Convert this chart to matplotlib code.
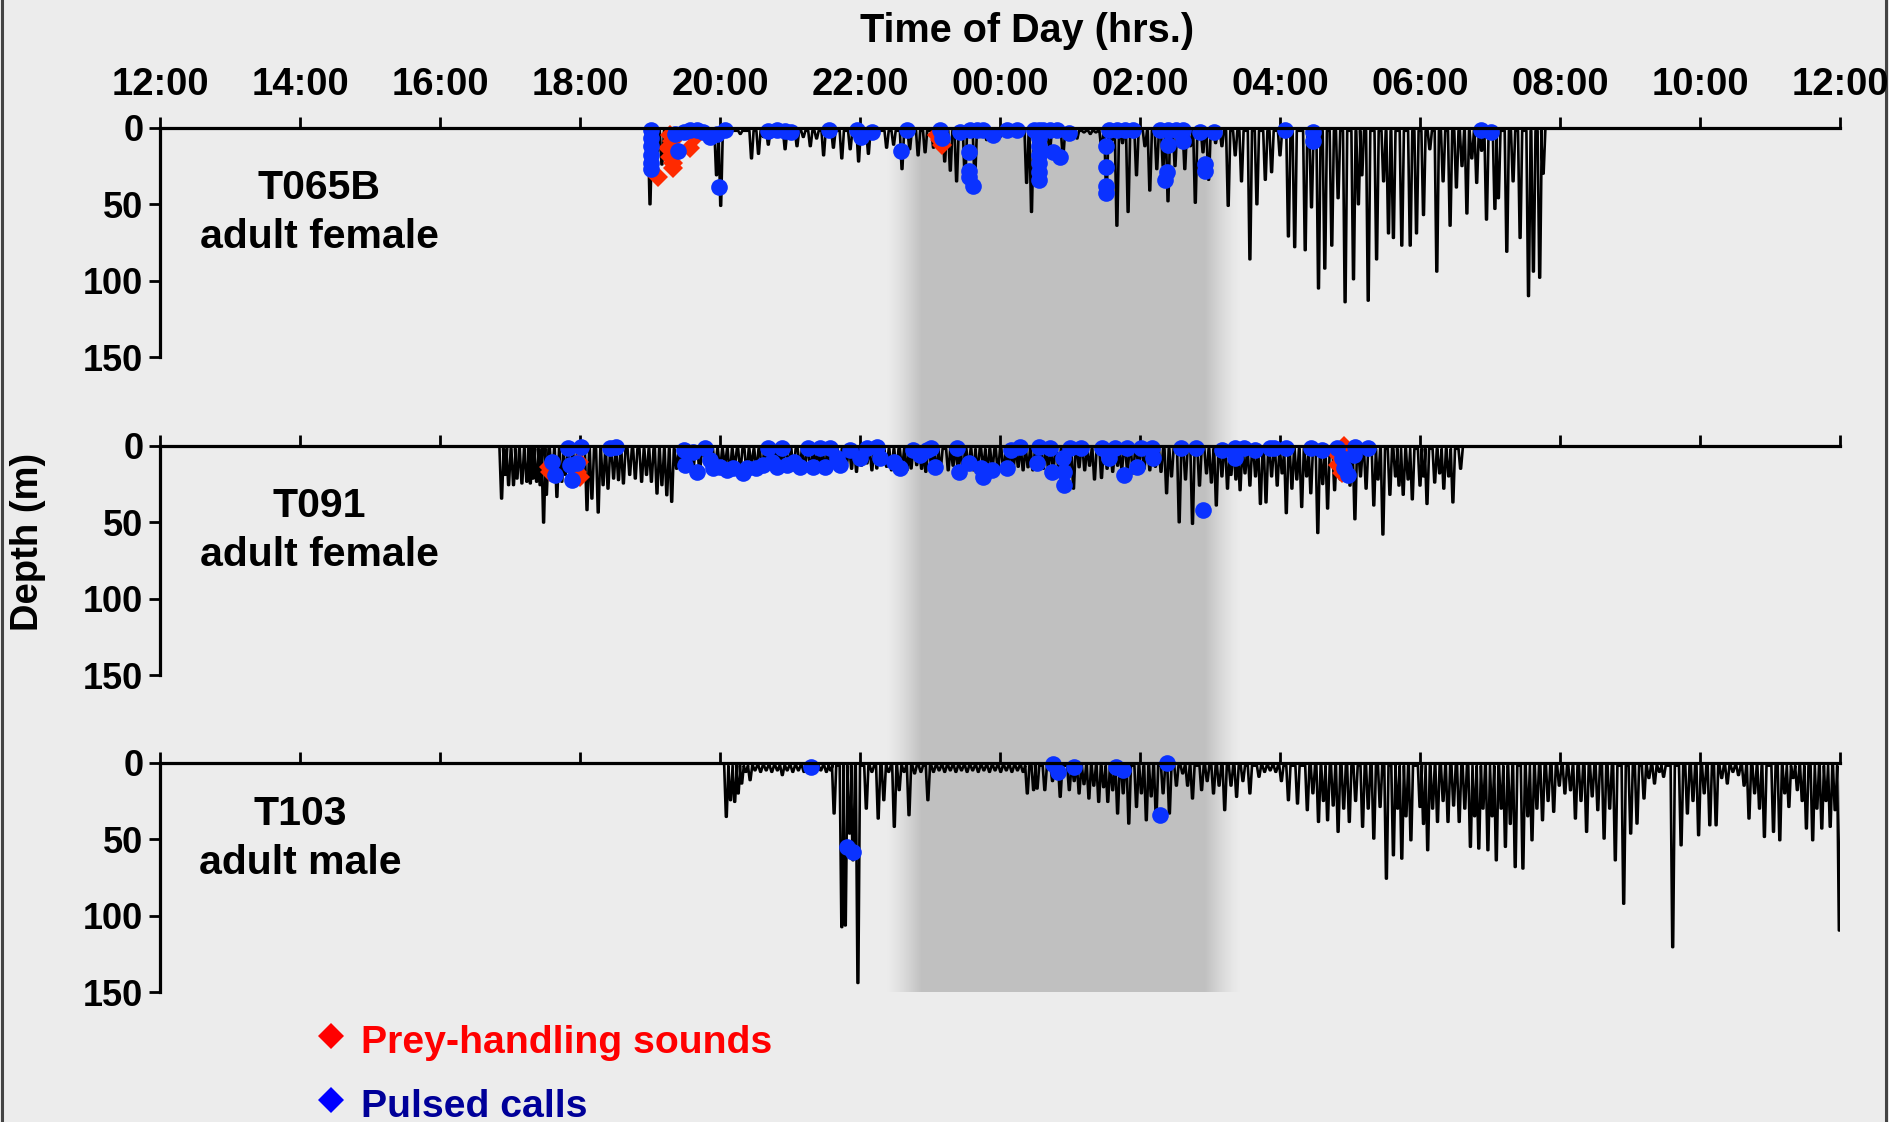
import numpy as np
import matplotlib
matplotlib.use("Agg")
import matplotlib.pyplot as plt
from matplotlib.lines import Line2D

# ---------------- data (clock hours; values >24 are the next day) ----------------
hour_ticks = [12, 14, 16, 18, 20, 22, 24, 26, 28, 30, 32, 34, 36]
hour_labels = ["12:00", "14:00", "16:00", "18:00", "20:00", "22:00", "00:00",
               "02:00", "04:00", "06:00", "08:00", "10:00", "12:00"]
depth_ticks = [0, 50, 100, 150]
whale_ids = ["T065B", "T091", "T103"]
whale_desc = ["adult female", "adult female", "adult male"]
legend_labels = ["Prey-handling sounds", "Pulsed calls"]
night_start, night_end, night_fade = 22.88, 26.93, 0.5

# T065B dives: time of each dive, maximum depth (m)
t065_dive_t = [19.00, 19.10, 19.17, 19.24, 19.43, 19.62, 19.81, 19.95, 20.01, 20.14, 20.29, 20.45, 20.55,
               20.62, 20.69, 20.81, 20.93, 21.02, 21.10, 21.19, 21.29, 21.38, 21.48, 21.55, 21.62, 21.74,
               21.86, 21.98, 22.05, 22.12, 22.24, 22.38, 22.48, 22.60, 22.71, 22.83, 22.93, 23.05, 23.21,
               23.29, 23.38, 23.50, 23.64, 23.72, 23.81, 23.90, 24.00, 24.10, 24.19, 24.28, 24.38, 24.45,
               24.55, 24.62, 24.71, 24.80, 24.90, 25.00, 25.10, 25.20, 25.29, 25.37, 25.45, 25.52, 25.60,
               25.67, 25.75, 25.83, 25.95, 26.07, 26.14, 26.24, 26.33, 26.40, 26.50, 26.57, 26.64, 26.72,
               26.79, 26.90, 26.98, 27.08, 27.17, 27.26, 27.36, 27.45, 27.57, 27.67, 27.79, 27.88, 28.00,
               28.12, 28.21, 28.36, 28.45, 28.55, 28.64, 28.74, 28.83, 28.93, 29.05, 29.12, 29.17, 29.26,
               29.38, 29.48, 29.55, 29.62, 29.74, 29.86, 29.95, 30.05, 30.14, 30.24, 30.33, 30.43, 30.52,
               30.60, 30.67, 30.74, 30.81, 30.88, 30.95, 31.07, 31.12, 31.24, 31.33, 31.43, 31.55, 31.62,
               31.71, 31.76]
t065_dive_d = [50, 20, 24, 15, 8, 6, 5, 31, 51, 4, 4, 20, 17,
               6, 11, 5, 14, 5, 12, 6, 12, 7, 18, 5, 13, 20,
               14, 22, 6, 17, 6, 13, 11, 27, 14, 18, 16, 13, 22,
               28, 35, 34, 33, 6, 8, 4, 6, 4, 5, 4, 36, 55,
               8, 10, 16, 6, 19, 5, 7, 3, 4, 3, 13, 42, 8,
               64, 10, 55, 31, 12, 41, 27, 25, 48, 25, 10, 27, 12,
               49, 16, 34, 10, 12, 51, 18, 35, 86, 50, 34, 29, 18,
               71, 78, 80, 52, 105, 92, 77, 46, 114, 99, 50, 31, 113,
               86, 35, 69, 72, 77, 77, 69, 57, 14, 94, 35, 64, 39,
               25, 56, 20, 36, 15, 60, 53, 46, 81, 35, 72, 110, 94,
               98, 30]
t065_call_t = [19.02, 19.02, 19.02, 19.02, 19.02, 19.02, 19.40, 19.36, 19.48, 19.57, 19.67, 19.76, 19.86,
               19.95, 20.07, 19.99, 20.69, 20.81, 20.93, 21.02, 21.55, 21.95, 22.02, 22.17, 22.59, 22.67,
               23.14, 23.17, 23.43, 23.57, 23.67, 23.76, 23.90, 23.55, 23.55, 23.55, 23.62, 24.10, 24.24,
               24.55, 24.55, 24.55, 24.55, 24.55, 24.55, 24.55, 24.48, 24.62, 24.71, 24.81, 24.98, 24.76,
               24.86, 25.55, 25.67, 25.79, 25.90, 25.52, 25.52, 25.52, 25.52, 26.29, 26.40, 26.52, 26.62,
               26.40, 26.62, 26.38, 26.36, 26.86, 27.05, 26.93, 26.93, 28.07, 28.47, 28.47, 30.87, 31.02]
t065_call_d = [1.5, 7, 12, 18, 23, 27, 15, 4, 3, 1.5, 1.5, 3, 6,
               4, 1.5, 39, 2, 1.5, 2, 3, 1.5, 1.5, 6, 2.5, 15, 1.5,
               1.5, 7, 2.5, 1.5, 1.5, 1.5, 5, 16, 28, 32, 38, 1.5, 1.5,
               1.5, 7, 12, 18, 23, 29, 34, 1.5, 1.5, 1.5, 1.5, 3.5, 16,
               19, 1.5, 1.5, 1.5, 1.5, 12, 26, 38, 43, 1.5, 1.5, 1.5, 1.5,
               11, 9, 29, 34, 2.5, 2.5, 24, 28, 1.5, 2.5, 9, 1.5, 2.5]
t065_prey_t = [19.12, 19.29, 19.31, 19.26, 19.29, 19.33, 19.33, 19.57, 19.64, 23.10, 23.14, 23.17]
t065_prey_d = [32, 5, 9, 13.5, 19, 23, 26.6, 13.5, 6, 5, 8, 11]

# T091 dives
t091_dive_t = [16.88, 16.93, 16.98, 17.05, 17.10, 17.17, 17.24, 17.29, 17.33, 17.38, 17.43, 17.48, 17.52,
               17.60, 17.67, 17.74, 17.79, 17.86, 17.93, 18.00, 18.10, 18.17, 18.26, 18.33, 18.40, 18.48,
               18.55, 18.62, 18.71, 18.79, 18.88, 18.95, 19.02, 19.10, 19.17, 19.24, 19.31, 19.38,
               19.45, 19.52, 19.62, 19.71, 19.79, 19.86, 19.93, 20.00, 20.07, 20.14, 20.21, 20.29, 20.38,
               20.45, 20.52, 20.60, 20.67, 20.76, 20.83, 20.90, 20.98, 21.05, 21.14, 21.21, 21.29, 21.36,
               21.43, 21.50, 21.57, 21.64, 21.71, 21.81, 21.88, 21.95, 22.02, 22.10, 22.17, 22.24, 22.31,
               22.38, 22.45, 22.52, 22.60, 22.67, 22.73, 22.81, 22.88, 22.94, 23.02, 23.09, 23.15, 23.26,
               23.33, 23.40, 23.47, 23.55, 23.62, 23.68, 23.76, 23.82, 23.89, 23.97, 24.05, 24.12, 24.19,
               24.26, 24.33, 24.40, 24.47, 24.55, 24.62, 24.69, 24.76, 24.84, 24.92, 24.98, 25.05, 25.13,
               25.21, 25.28, 25.35, 25.45, 25.53, 25.61, 25.68, 25.74, 25.82, 25.90, 25.98, 26.06, 26.14,
               26.22, 26.30, 26.38, 26.45, 26.56, 26.65, 26.75, 26.85, 26.95, 27.02, 27.09, 27.17, 27.25,
               27.30, 27.37, 27.43, 27.50, 27.57, 27.65, 27.72, 27.80, 27.88, 27.96, 28.03, 28.09, 28.17,
               28.24, 28.31, 28.38, 28.44, 28.54, 28.61, 28.68, 28.78, 28.86, 28.95, 29.00, 29.07, 29.15,
               29.23, 29.34, 29.40, 29.47, 29.57, 29.65, 29.70, 29.76, 29.83, 29.89, 30.00, 30.05, 30.10,
               30.21, 30.28, 30.34, 30.41, 30.47, 30.58]
t091_dive_d = [34.5, 19, 25.7, 25.7, 21.4, 24.6, 23.5, 24.6, 21.4, 23.5, 25.7, 50.2, 32,
               21.4, 33.4, 23.5, 19, 19, 19, 23.5, 42, 34.5, 43.6, 25.7, 28, 21.4,
               22.4, 24.6, 19, 21.4, 23.5, 19, 23.5, 31.2, 25.7, 32.3, 36.6, 15,
               12, 17, 13.7, 18, 11, 12.6, 15, 14.8, 12, 18, 13, 16, 17,
               12, 14.8, 16, 13.7, 17, 12, 14.8, 13, 16, 12.6, 15, 17, 13,
               14.8, 16, 13.7, 12, 14.8, 11.5, 15, 17, 13, 11.5, 16, 14.8, 12,
               13.7, 16, 17, 14, 16, 14.8, 12.6, 15, 17, 13, 16, 14.8, 16,
               13, 15, 17, 14, 16, 16, 13, 15, 14.8, 16, 17, 13, 15,
               13.7, 16, 14, 16, 13, 15, 14.8, 16, 17, 13, 16, 28, 14,
               16, 13, 22, 21, 15, 17, 13, 14.8, 16, 18, 14, 14.8, 16,
               13.7, 17, 31, 20, 50, 22, 51, 26, 18, 24, 39, 20, 28,
               19, 22, 29, 18, 26, 20, 38, 37, 20, 26, 18, 44, 28,
               22, 40, 20, 31, 57, 25, 41, 29, 22, 18, 26, 48, 20,
               28, 39, 22, 58, 32, 20, 26, 32, 22, 35, 26, 20, 38,
               24, 18, 28, 20, 37, 15]
t091_call_t = [17.60, 17.64, 17.83, 17.86, 17.88, 17.95, 18.02, 18.43, 18.52,
               19.48, 19.50, 19.62, 19.67, 19.79, 19.86, 19.90, 20.00, 20.10, 20.19, 20.33, 20.38, 20.52,
               20.62, 20.69, 20.74, 20.81, 20.88, 20.95, 21.05, 21.14, 21.26, 21.33, 21.43, 21.50, 21.57,
               21.67, 21.71, 21.86, 22.00, 22.10, 22.24, 22.29, 22.48, 22.57, 22.76, 22.86, 22.95,
               23.02, 23.07, 23.39, 23.42, 23.55, 23.73, 23.76, 23.89, 24.10, 24.16, 24.29, 24.53, 24.55,
               24.71, 24.74, 24.90, 24.92, 24.92, 25.00, 25.16, 25.45, 25.56, 25.64, 25.77, 25.82, 25.95,
               26.01, 26.17, 26.19, 26.59, 26.80, 26.90, 27.17, 27.35, 27.35, 27.49, 27.64, 27.86, 27.91,
               28.09, 28.44, 28.60, 28.81, 28.89, 28.91, 28.97, 29.05, 29.07, 29.26]
t091_call_d = [10.4, 19.2, 1.7, 12.6, 22.4, 11.5, 0.6, 1.7, 0.6,
               2.8, 12.6, 3.9, 17, 1.7, 9.4, 14.8, 13.7, 15.9, 14.8, 18.1, 14.8, 14.8,
               12.6, 1.7, 10.4, 13.7, 1.7, 12.6, 10.4, 13.7, 1.7, 13.7, 1.7, 13.7, 1.7,
               8.3, 12.6, 2.8, 8.3, 1.7, 0.6, 8.3, 10.4, 14.8, 2.8, 6.1, 2.8,
               1.7, 13.7, 1.7, 17, 11.5, 14.8, 20.3, 15.9, 14.8, 2.8, 0.6, 11.5, 0.6,
               1.7, 17, 8.3, 17, 25.7, 1.7, 1.7, 1.7, 8.3, 1.7, 19.2, 1.7, 13.7,
               1.7, 1.7, 8.3, 1.7, 1.7, 42, 2.8, 1.7, 8.3, 1.7, 2.8, 1.7, 1.7,
               1.7, 1.7, 2.8, 1.7, 8.3, 14.8, 19.2, 6.1, 0.6, 1.7]
t091_prey_t = [17.55, 17.57, 17.95, 18.00, 17.98, 28.78, 28.83, 28.89, 28.91]
t091_prey_d = [13.7, 17, 17, 20.3, 10.4, 3.9, 12.6, 18.1, 0.5]

# T103 dives
t103_dive_t = [20.09, 20.15, 20.21, 20.26, 20.31, 20.37, 20.43, 20.50, 20.58, 20.66, 20.74, 20.82, 20.89,
               20.96, 21.04, 21.12, 21.20, 21.28, 21.36, 21.44, 21.52, 21.58, 21.63, 21.74, 21.79, 21.85,
               21.90, 21.97, 22.09, 22.17, 22.26, 22.34, 22.41, 22.49, 22.56, 22.63, 22.70, 22.78, 22.87,
               22.97, 23.05, 23.13, 23.21, 23.29, 23.37, 23.45, 23.53, 23.61, 23.69, 23.77, 23.85, 23.93,
               24.01, 24.09, 24.17, 24.25, 24.33, 24.39, 24.48, 24.53, 24.64, 24.75, 24.86, 24.99, 25.06,
               25.13, 25.20, 25.27, 25.34, 25.41, 25.48, 25.54, 25.61, 25.68, 25.76, 25.84, 25.95, 26.02,
               26.09, 26.16, 26.23, 26.33, 26.42, 26.52, 26.61, 26.68, 26.75, 26.88, 26.96, 27.05, 27.13,
               27.21, 27.30, 27.38, 27.47, 27.57, 27.70, 27.78, 27.86, 27.94, 28.02, 28.12, 28.25, 28.39,
               28.47, 28.55, 28.62, 28.68, 28.76, 28.83, 28.91, 28.99, 29.08, 29.18, 29.26, 29.34, 29.43,
               29.52, 29.62, 29.68, 29.74, 29.80, 29.87, 30.00, 30.05, 30.11, 30.18, 30.25, 30.33, 30.40,
               30.48, 30.56, 30.64, 30.72, 30.78, 30.84, 30.90, 30.97, 31.03, 31.09, 31.16, 31.22, 31.29,
               31.36, 31.47, 31.54, 31.60, 31.67, 31.75, 31.83, 31.91, 31.99, 32.07, 32.15, 32.22, 32.30,
               32.38, 32.46, 32.54, 32.63, 32.71, 32.79, 32.91, 33.01, 33.10, 33.20, 33.27, 33.35, 33.42,
               33.48, 33.61, 33.73, 33.82, 33.90, 33.98, 34.06, 34.14, 34.23, 34.31, 34.39, 34.47, 34.55,
               34.63, 34.70, 34.78, 34.85, 34.92, 35.05, 35.14, 35.21, 35.27, 35.33, 35.39, 35.46, 35.52,
               35.61, 35.67, 35.74, 35.80, 35.86, 35.93, 35.99]
t103_dive_d = [35.4, 24.5, 25.6, 20.1, 13.6, 6, 11.4, 5, 6, 5, 6, 5, 8.1,
               5, 6, 5, 6, 5, 6, 5, 6, 5, 33.2, 107.5, 106.4, 46.3,
               63.8, 144, 30, 6, 36.5, 24.5, 6, 41.9, 17.9, 6, 34.3, 7, 6,
               24.5, 6, 5, 6, 5, 6, 5, 6, 5, 6, 5, 6, 5,
               6, 5, 6, 5, 6, 20.1, 17.9, 16.9, 17.9, 12, 22.3, 17.9, 12,
               20.1, 14, 23.4, 15, 25.6, 16, 25.6, 18, 33.2, 20, 39.8, 28.9, 20,
               37.6, 22, 35.4, 20, 33.2, 15, 7, 15, 23.4, 17.9, 12, 20.1, 15,
               31, 15, 22.3, 12, 20.1, 9.2, 6, 5, 6, 12, 24.5, 26.7, 31,
               20, 38.7, 25, 37.6, 28, 45.2, 30, 38.7, 25, 41.9, 30, 49.6, 28.9,
               75.8, 60.5, 30, 62.7, 35, 50.7, 28.9, 40, 57.2, 30, 38.7, 25, 38.7,
               28, 38.7, 30, 55, 35, 56.1, 30, 57.2, 35, 63.8, 30, 55, 40,
               68.2, 69.2, 35, 50.7, 30, 37.6, 25, 32.1, 15, 20.1, 18, 36.5, 25,
               45.2, 22, 31, 49.6, 30, 63.8, 92.2, 46.3, 39.8, 23.4, 10, 13.6, 6,
               9.2, 120.6, 54, 33.2, 25, 47.4, 20, 40.9, 40.9, 10, 13.6, 6, 8.1,
               15, 36.5, 20, 30, 48.5, 45.2, 50.7, 20, 28.9, 10, 17.9, 25, 43,
               50.7, 30, 43, 25, 41.9, 31, 109.7]
t103_call_t = [21.30, 21.82, 21.90, 24.75, 24.83, 25.05, 25.65, 25.76, 26.28, 26.38]
t103_call_d = [3.1, 55, 58.3, 0.9, 5.9, 2.7, 2.7, 4.8, 34.3, 0.5]
t103_prey_t = []
t103_prey_d = []

# ---------------- styling ----------------
FONT = ["Liberation Sans", "DejaVu Sans"]
plt.rcParams["font.family"] = FONT
plt.rcParams["font.weight"] = "bold"
BG = "#ececec"
W_PX, H_PX = 1889, 1122

fig = plt.figure(figsize=(W_PX / 100, H_PX / 100), dpi=100, facecolor=BG)

left_px, right_px = 160, 1840
zeros_px = [127.7, 445.7, 762.6]
panel_h_px = 229.5


def fx(px):
    return px / W_PX


def fy(py):
    return 1 - py / H_PX


L = fx(left_px)
Wd = fx(right_px) - fx(left_px)

# night shading (one background axes spanning all three panels)
bg = fig.add_axes([L, fy(zeros_px[2] + panel_h_px), Wd,
                   fy(zeros_px[0]) - fy(zeros_px[2] + panel_h_px)], zorder=0)
bg.set_xlim(12, 36)
bg.set_ylim(0, 1)
bg.axis("off")
xs = np.linspace(12, 36, 4801)
alpha = np.clip(np.minimum((xs - (night_start - night_fade)) / night_fade,
                           ((night_end + night_fade) - xs) / night_fade), 0, 1)
img = np.zeros((1, xs.size, 4))
img[..., :3] = 0.753
img[..., 3] = alpha ** 1.3
bg.imshow(img, extent=[12, 36, 0, 1], aspect="auto", interpolation="bilinear")


def profile(dt, dd, hw=0.03, surf=2.0):
    t, d = [], []
    for ti, di in zip(dt, dd):
        t += [ti - hw, ti - 0.006, ti + 0.006, ti + hw]
        d += [surf, di, di, surf]
    return t, d


panels = [
    (t065_dive_t, t065_dive_d, t065_call_t, t065_call_d, t065_prey_t, t065_prey_d),
    (t091_dive_t, t091_dive_d, t091_call_t, t091_call_d, t091_prey_t, t091_prey_d),
    (t103_dive_t, t103_dive_d, t103_call_t, t103_call_d, t103_prey_t, t103_prey_d),
]

label_pos = [(319, 71, 120.5), (319, 71, 120.5), (300, 62, 111)]

for i, (dt, dd, ct, cd, pt, pd_) in enumerate(panels):
    z = zeros_px[i]
    ax = fig.add_axes([L, fy(z + panel_h_px), Wd, panel_h_px / H_PX], zorder=2)
    ax.patch.set_visible(False)
    t, d = profile(dt, dd)
    ax.plot(t, d, color="black", lw=1.9, solid_joinstyle="round")
    ax.plot(pt, pd_, linestyle="none", marker="D", ms=10, color="#ff2a00",
            markeredgewidth=0, clip_on=False, zorder=3)
    ax.plot(ct, cd, linestyle="none", marker="o", ms=12, color="#0a32ff",
            markeredgewidth=0, clip_on=False, zorder=4)
    ax.set_xlim(12, 36)
    ax.set_ylim(150, 0)
    ax.set_xticks(hour_ticks)
    ax.set_yticks(depth_ticks)
    ax.xaxis.set_ticks_position("top")
    for s in ["right", "bottom"]:
        ax.spines[s].set_visible(False)
    for s in ["top", "left"]:
        ax.spines[s].set_linewidth(2.3)
        ax.spines[s].set_color("black")
        ax.spines[s].set_zorder(5)
    ax.tick_params(axis="x", direction="out", length=8, width=2.0, pad=10,
                   labelsize=27.5, labeltop=(i == 0), labelbottom=False)
    ax.tick_params(axis="y", direction="out", length=8, width=2.0, pad=4,
                   labelsize=26)
    if i == 0:
        ax.set_xticklabels(hour_labels, fontweight="bold")
    ax.set_yticklabels([str(v) for v in depth_ticks], fontweight="bold")
    cx, b1, b2 = label_pos[i]
    fig.text(fx(cx), fy(z + b1), whale_ids[i], ha="center", va="baseline",
             fontsize=29.5, fontweight="bold")
    fig.text(fx(cx), fy(z + b2), whale_desc[i], ha="center", va="baseline",
             fontsize=29.5, fontweight="bold")

# titles
fig.text(fx(1027), fy(42), "Time of Day (hrs.)", ha="center", va="baseline",
         fontsize=28.5, fontweight="bold")
fig.text(fx(28), fy(542), "Depth (m)", ha="center", va="center", rotation=90,
         fontsize=27.5, fontweight="bold")

# legend
leg_colors = ["#ff0000", "#0000ff"]
leg_text_colors = ["#ff0000", "#000099"]
leg_marker_y = [1036, 1100]
leg_text_y = [1053, 1117]
for lab, mc, tc, my, ty in zip(legend_labels, leg_colors, leg_text_colors, leg_marker_y, leg_text_y):
    fig.add_artist(Line2D([fx(331)], [fy(my)], transform=fig.transFigure, marker="D",
                          ms=13, color=mc, markeredgewidth=0, linestyle="none"))
    fig.text(fx(361), fy(ty), lab, color=tc, ha="left", va="baseline",
             fontsize=28.3, fontweight="bold")

# figure frame lines at left and right
fig.add_artist(Line2D([fx(1.5), fx(1.5)], [0, 1], transform=fig.transFigure,
                      color="#444444", lw=2.2))
fig.add_artist(Line2D([fx(1885.5), fx(1885.5)], [0, 1], transform=fig.transFigure,
                      color="#444444", lw=2.2))

fig.savefig("out.png", dpi=100, facecolor=BG)
